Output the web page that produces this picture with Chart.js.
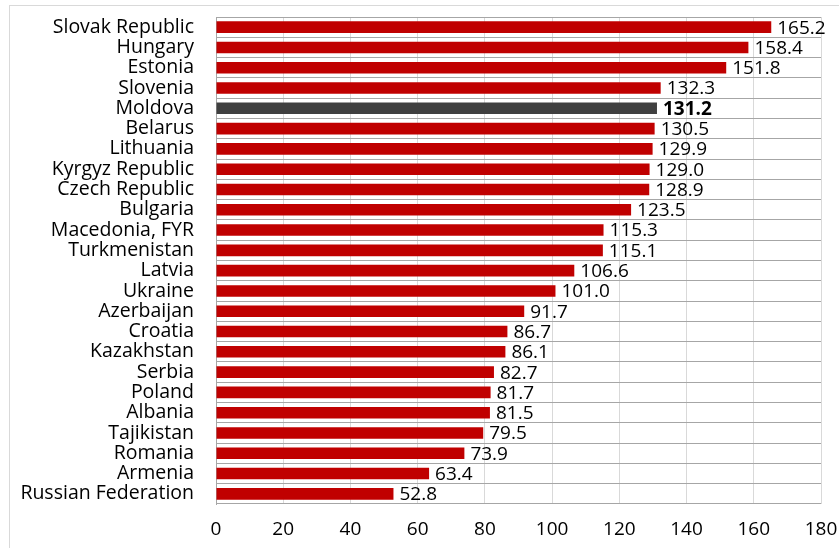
<!DOCTYPE html>
<html>
<head>
<meta charset="utf-8">
<script src="https://cdn.jsdelivr.net/npm/chart.js@4/dist/chart.umd.min.js"></script>
<style>
  html, body { margin: 0; padding: 0; background: #fff; overflow: hidden; }
  #wrap { width: 839px; height: 548px; position: relative; }
</style>
</head>
<body>
<div id="wrap"><canvas id="graphique"></canvas></div>
<script>
const pays = [
    "Slovak Republic", "Hungary", "Estonia", "Slovenia", "Moldova", "Belarus",
    "Lithuania", "Kyrgyz Republic", "Czech Republic", "Bulgaria", "Macedonia, FYR",
    "Turkmenistan", "Latvia", "Ukraine", "Azerbaijan", "Croatia", "Kazakhstan",
    "Serbia", "Poland", "Albania", "Tajikistan", "Romania", "Armenia", "Russian Federation"
];
const valeurs = [
    165.2, 158.4, 151.8, 132.3, 131.2, 130.5, 129.9, 129.0, 128.9, 123.5, 115.3,
    115.1, 106.6, 101.0, 91.7, 86.7, 86.1, 82.7, 81.7, 81.5, 79.5, 73.9, 63.4, 52.8
];
const paysMisEnAvant = "Moldova";
const graduations = [0, 20, 40, 60, 80, 100, 120, 140, 160, 180];

const police = "'Open Sans', sans-serif";
const couleurs = pays.map(p => p === paysMisEnAvant ? "#404040" : "#C00000");

// cadre gris clair autour du graphique
const cadre = {
    id: "cadre",
    beforeDraw(chart) {
        const ctx = chart.ctx;
        ctx.save();
        ctx.strokeStyle = "#d9d9d9";
        ctx.lineWidth = 1;
        ctx.strokeRect(9.5, 5.5, 900, 600);
        ctx.restore();
    }
};

// valeurs écrites au bout de chaque barre
const etiquettes = {
    id: "etiquettes",
    afterDatasetsDraw(chart) {
        const ctx = chart.ctx;
        const meta = chart.getDatasetMeta(0);
        ctx.save();
        ctx.textBaseline = "middle";
        ctx.textAlign = "left";
        ctx.fillStyle = "#000";
        meta.data.forEach((barre, i) => {
            const gras = pays[i] === paysMisEnAvant ? "bold " : "";
            ctx.font = gras + "19px " + police;
            ctx.fillText(valeurs[i].toFixed(1), barre.x + 6, barre.y + 1);
        });
        ctx.restore();
    }
};

const ctx = document.querySelector("#graphique").getContext("2d");
new Chart(ctx, {
    type: "bar",
    data: {
        labels: pays,
        datasets: [{
            data: valeurs,
            backgroundColor: couleurs,
            barPercentage: 0.57,
            categoryPercentage: 1
        }]
    },
    options: {
        indexAxis: "y",
        responsive: true,
        maintainAspectRatio: false,
        animation: false,
        layout: { padding: { top: 17, left: 0, right: 18, bottom: 0 } },
        plugins: {
            legend: { display: false },
            tooltip: { enabled: false }
        },
        scales: {
            x: {
                min: 0,
                max: 180,
                afterBuildTicks: axe => {
                    axe.ticks = graduations.map(v => ({ value: v }));
                },
                afterFit: axe => {
                    axe.height = 44;
                    axe.paddingRight = 0;
                    axe.paddingLeft = 0;
                },
                grid: { color: "#d9d9d9", drawTicks: false },
                border: { display: false },
                ticks: {
                    padding: 14,
                    color: "#000",
                    font: { family: police, size: 19 }
                }
            },
            y: {
                afterFit: axe => {
                    axe.width = 216;
                    axe.paddingTop = 0;
                    axe.paddingBottom = 0;
                },
                grid: { color: "#a6a6a6", offset: true, drawTicks: false },
                border: { display: true, color: "#a6a6a6" },
                ticks: {
                    padding: 22,
                    color: "#000",
                    autoSkip: false,
                    font: { family: police, size: 19.5 }
                }
            }
        }
    },
    plugins: [cadre, etiquettes]
});
</script>
</body>
</html>
